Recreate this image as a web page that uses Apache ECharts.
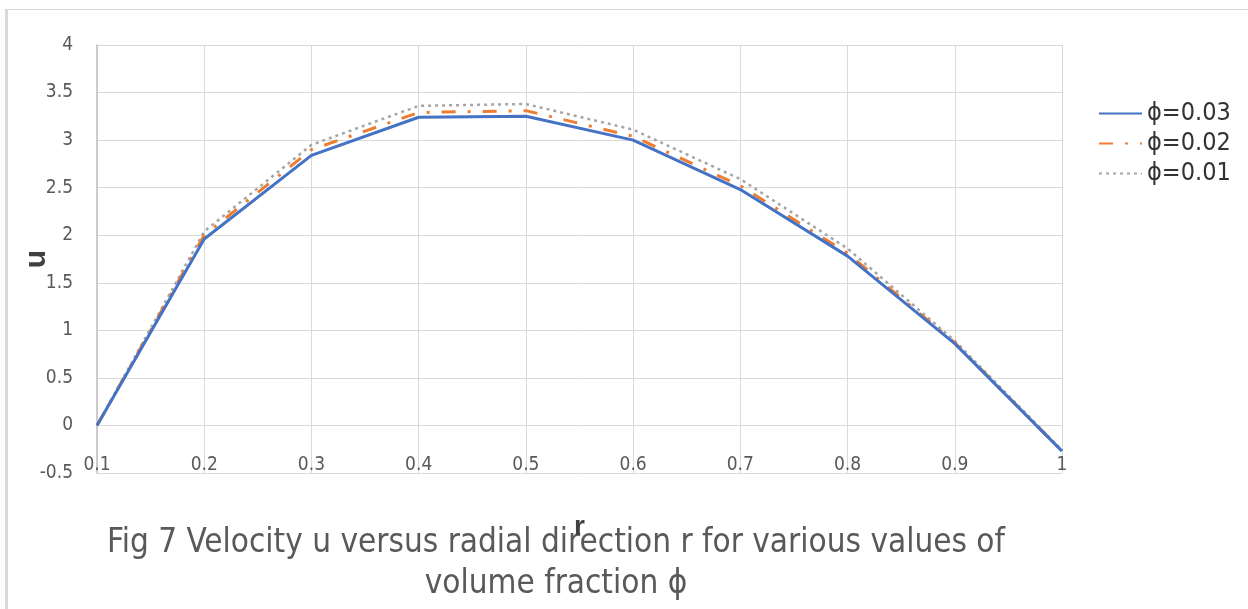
<!DOCTYPE html>
<html>
<head>
<meta charset="utf-8">
<script src="https://cdn.jsdelivr.net/npm/echarts@6/dist/echarts.min.js"></script>
<style>
html,body{margin:0;padding:0;background:#fff;}
#chart{width:1248px;height:609px;}
</style>
</head>
<body>
<div id="chart"></div>
<script>
// ---- data ----
const rValues = ['0.1','0.2','0.3','0.4','0.5','0.6','0.7','0.8','0.9','1'];
const seriesNames = ['ϕ=0.03','ϕ=0.02','ϕ=0.01'];
const uPhi003 = [0, 1.96, 2.84, 3.24, 3.25, 3.00, 2.48, 1.78, 0.86, -0.27];
const uPhi002 = [0, 2.00, 2.90, 3.29, 3.31, 3.04, 2.52, 1.81, 0.87, -0.27];
const uPhi001 = [0, 2.04, 2.95, 3.36, 3.38, 3.11, 2.59, 1.86, 0.89, -0.26];
const titleLines = ['Fig 7 Velocity u versus radial direction r for various values of', 'volume fraction ϕ'];

const FONT = "'Liberation Sans Narrow','DejaVu Sans Condensed','Liberation Sans',sans-serif";
const chart = echarts.init(document.getElementById('chart'), null, {renderer:'canvas'});
const gridColor = '#d9d9d9';
const option = {
  backgroundColor: '#ffffff',
  animation: false,
  grid: {left: 97, right: 186, top: 45, bottom: 136, containLabel: false, outerBoundsMode: 'none'},
  legend: {
    orient: 'vertical',
    left: 1093, top: 96,
    itemWidth: 43, itemHeight: 14, itemGap: 5,
    itemStyle: {opacity: 0},
    textStyle: {fontFamily: FONT, fontSize: 25, color: '#333333', lineHeight: 24},
    data: seriesNames
  },
  xAxis: {
    type: 'category',
    data: rValues,
    boundaryGap: false,
    name: 'r',
    nameLocation: 'middle',
    nameGap: 40,
    nameMoveOverlap: false,
    nameTextStyle: {fontFamily: "'Liberation Sans',sans-serif", fontSize: 28, fontWeight: 'bold', color: '#404040'},
    axisLine: {show: true, lineStyle: {color: gridColor, width: 1}},
    axisTick: {show: false},
    axisLabel: {inside: true, margin: -2, fontFamily: FONT, fontSize: 19, color: '#595959'},
    splitLine: {show: true, lineStyle: {color: gridColor, width: 1}}
  },
  yAxis: {
    type: 'value',
    min: -0.5, max: 4, interval: 0.5,
    name: 'u',
    nameLocation: 'middle',
    nameGap: 45,
    nameMoveOverlap: false,
    nameTextStyle: {fontFamily: "'Liberation Sans',sans-serif", fontSize: 30, fontWeight: 'bold', color: '#404040'},
    axisLine: {show: true, lineStyle: {color: '#bfbfbf', width: 1.5}},
    axisTick: {show: false},
    axisLabel: {margin: 24, fontFamily: FONT, fontSize: 19, color: '#595959'},
    splitLine: {show: true, lineStyle: {color: gridColor, width: 1}}
  },
  series: [
    {name: seriesNames[0], type: 'line', data: uPhi003, symbol: 'none', showSymbol: false,
     lineStyle: {color: '#4472C4', width: 3, type: 'solid'}, itemStyle: {color: '#4472C4'}, z: 3},
    {name: seriesNames[1], type: 'line', data: uPhi002, symbol: 'none', showSymbol: false,
     lineStyle: {color: '#ED7D31', width: 3, type: [14, 12, 3, 12]}, itemStyle: {color: '#ED7D31'}, z: 2},
    {name: seriesNames[2], type: 'line', data: uPhi001, symbol: 'none', showSymbol: false,
     lineStyle: {color: '#A5A5A5', width: 2.5, type: [3, 4]}, itemStyle: {color: '#A5A5A5'}, z: 1}
  ],
  graphic: [
    {type: 'line', shape: {x1: 6.5, y1: 9, x2: 6.5, y2: 620}, style: {stroke: '#d9d9d9', lineWidth: 3}, silent: true},
    {type: 'line', shape: {x1: 5, y1: 9.5, x2: 1260, y2: 9.5}, style: {stroke: '#d9d9d9', lineWidth: 1}, silent: true},
    {type: 'text', x: 556, y: 543, style: {text: titleLines[0], align: 'center', verticalAlign: 'middle', fontFamily: FONT, fontSize: 33, fill: '#595959'}, silent: true},
    {type: 'text', x: 556, y: 584, style: {text: titleLines[1], align: 'center', verticalAlign: 'middle', fontFamily: FONT, fontSize: 33, fill: '#595959'}, silent: true}
  ]
};
chart.setOption(option);
</script>
</body>
</html>
